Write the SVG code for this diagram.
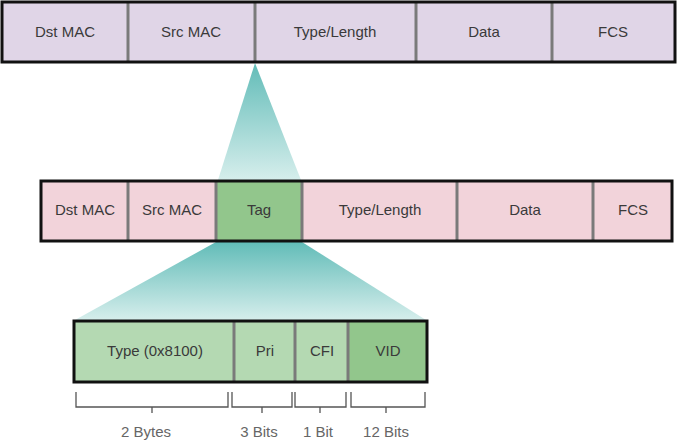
<svg xmlns="http://www.w3.org/2000/svg" width="677" height="441" viewBox="0 0 677 441">
<style>
text{font-family:"Liberation Sans",Arial,sans-serif;font-size:15px;fill:#3a3a3a;text-anchor:middle}
.o{fill:none;stroke:#111;stroke-width:3}
.d{stroke:#7a7a7a;stroke-width:3}
.b{fill:none;stroke:#555;stroke-width:1.3}
.l{fill:#666}
</style>
<defs>
<linearGradient id="g" x1="0" y1="0" x2="0" y2="1"><stop offset="0" stop-color="#62bcb8"/><stop offset="1" stop-color="#d6eeec"/></linearGradient>
</defs>
<g id="connectors">
<polygon points="255,63 218,180 301,180" fill="url(#g)"/>
<polygon points="216,242 302,242 426,320 75,320" fill="url(#g)"/>
</g>
<g id="frame1">
<rect x="2" y="2" width="673" height="60" fill="#e0d5e7"/>
<line class="d" x1="128" y1="3" x2="128" y2="61"/><line class="d" x1="255" y1="3" x2="255" y2="61"/>
<line class="d" x1="416" y1="3" x2="416" y2="61"/><line class="d" x1="552" y1="3" x2="552" y2="61"/>
<rect class="o" x="2" y="2" width="673" height="60"/>
<text x="65" y="37">Dst MAC</text><text x="191" y="37">Src MAC</text><text x="335" y="37">Type/Length</text><text x="484" y="37">Data</text><text x="613" y="37">FCS</text>
</g>
<g id="frame2">
<rect x="41" y="181" width="631" height="60" fill="#f2d3da"/>
<rect x="216" y="181" width="86" height="60" fill="#92c68c"/>
<line class="d" x1="128" y1="182" x2="128" y2="240"/><line class="d" x1="216" y1="182" x2="216" y2="240"/>
<line class="d" x1="302" y1="182" x2="302" y2="240"/><line class="d" x1="457" y1="182" x2="457" y2="240"/><line class="d" x1="593" y1="182" x2="593" y2="240"/>
<rect class="o" x="41" y="181" width="631" height="60"/>
<text x="85" y="215">Dst MAC</text><text x="172" y="215">Src MAC</text><text x="259" y="215">Tag</text><text x="380" y="215">Type/Length</text><text x="525" y="215">Data</text><text x="633" y="215">FCS</text>
</g>
<g id="tag">
<rect x="74" y="321" width="353" height="61" fill="#b4d9b2"/>
<rect x="348" y="321" width="79" height="61" fill="#92c68c"/>
<line class="d" x1="234" y1="322" x2="234" y2="381"/><line class="d" x1="295" y1="322" x2="295" y2="381"/><line class="d" x1="348" y1="322" x2="348" y2="381"/>
<rect class="o" x="74" y="321" width="353" height="61"/>
<text x="155" y="356">Type (0x8100)</text><text x="265" y="356">Pri</text><text x="322" y="356">CFI</text><text x="388" y="356">VID</text>
</g>
<g id="sizes">
<path class="b" d="M76,392V407H228V392M152,407V413"/>
<path class="b" d="M232,392V407H292V392M262,407V413"/>
<path class="b" d="M295,392V407H346V392M320,407V413"/>
<path class="b" d="M351,392V407H425V392M386,407V413"/>
<text class="l" x="146" y="437">2 Bytes</text><text class="l" x="259" y="437">3 Bits</text><text class="l" x="318" y="437">1 Bit</text><text class="l" x="386" y="437">12 Bits</text>
</g>
</svg>
